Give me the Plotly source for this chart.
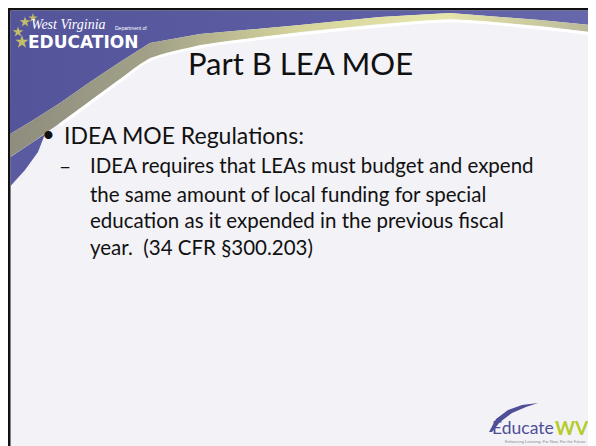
import plotly.graph_objects as go

# ---- content ----
title_text = "Part B LEA MOE"
bullet_text = "IDEA MOE Regulations:"
sub_dash = "–"
sub_lines = [
    "IDEA requires that LEAs must budget and expend",
    "the same amount of local funding for special",
    "education as it expended in the previous fiscal",
    "year.  (34 CFR §300.203)",
]
sub_line_y = [165, 194, 220, 247]
logo_top = "West Virginia"
logo_dept = "Department of"
logo_main = "EDUCATION"
footer_logo_a = "Educate"
footer_logo_b = "WV"
footer_tag = "Enhancing Learning. For Now. For the Future."

# swoosh band edges (page pixel coordinates)
outer_x = [591, 540, 450, 380, 300, 200, 150, 120, 90, 60, 30, 10]
outer_y = [25, 20, 13, 17, 25, 34, 43, 62, 82, 103, 122, 134]
inner_x = [591, 540, 450, 380, 300, 200, 150, 120, 90, 60, 30, 10]
inner_y = [32, 26, 19, 24, 32, 45, 58, 79, 101, 123, 144, 157]

W, H = 596, 446
OFF = 8  # default page margin of the html body

fig = go.Figure()

shapes = []
# black frame and slide background
shapes.append(dict(type="rect", x0=0, x1=W + 10, y0=8, y1=H + 10, fillcolor="#111111", line_width=0, layer="below"))
shapes.append(dict(type="rect", x0=10.5, x1=591, y0=10.5, y1=H + 10, fillcolor="#f3f2f7", line_width=0, layer="below"))

# purple header region above band
px = [10.5, 591] + outer_x
py = [10.5, 10.5] + outer_y
fig.add_trace(go.Scatter(x=px + [px[0]], y=py + [py[0]], mode="lines", fill="toself",
                         line=dict(width=0), fillgradient=dict(type="horizontal",
                         colorscale=[[0, "#54549b"], [0.5, "#5c5ca3"], [1, "#6767ab"]]),
                         hoverinfo="skip", showlegend=False))
# purple region below band on left
bx = [10.5, 30, 45, 38, 25, 10.5]
by = [157, 144, 134, 152, 170, 186]
fig.add_trace(go.Scatter(x=bx + [bx[0]], y=by + [by[0]], mode="lines", fill="toself", line=dict(width=0),
                         fillcolor="#5a5aa0", hoverinfo="skip", showlegend=False))
# band
bandx = outer_x + inner_x[::-1]
bandy = outer_y + inner_y[::-1]
fig.add_trace(go.Scatter(x=bandx + [bandx[0]], y=bandy + [bandy[0]], mode="lines", fill="toself",
                         line=dict(width=0), fillgradient=dict(type="horizontal",
                         colorscale=[[0, "#8e8d7e"], [0.25, "#a3a288"], [0.5, "#d6d59c"], [0.75, "#e6e5aa"], [1, "#b9b99a"]]),
                         hoverinfo="skip", showlegend=False))
# white highlight under band
fig.add_trace(go.Scatter(x=inner_x[:-2], y=[v + 2 for v in inner_y[:-2]], mode="lines",
                         line=dict(color="rgba(255,255,255,0.95)", width=3, shape="spline"),
                         hoverinfo="skip", showlegend=False))

# stars in logo
fig.add_trace(go.Scatter(x=[25, 33, 18, 22], y=[22, 18, 32, 42], mode="markers",
                         marker=dict(symbol="star", size=[8, 7, 8, 10], color="#f0ea52", line=dict(width=0)),
                         hoverinfo="skip", showlegend=False))

# Educate WV swoosh
sw_x = [489, 496, 508, 522, 538, 526, 512, 500, 492, 489]
sw_y = [432, 419, 410, 405, 403, 407, 413, 422, 432, 432]
fig.add_trace(go.Scatter(x=sw_x, y=sw_y, mode="lines", fill="toself", fillcolor="#4f4f98", line=dict(width=0),
                         hoverinfo="skip", showlegend=False))

fig.update_layout(shapes=shapes)

ann = []
ann.append(dict(x=29, y=24, text="<i>" + logo_top + "</i>", showarrow=False, xanchor="left", yanchor="middle",
                font=dict(family="Liberation Serif", size=14, color="white")))
ann.append(dict(x=113, y=28, text=logo_dept, showarrow=False, xanchor="left", yanchor="middle",
                font=dict(family="Liberation Sans", size=5, color="white")))
ann.append(dict(x=26, y=42, text="<b>" + logo_main + "</b>", showarrow=False, xanchor="left", yanchor="middle",
                font=dict(family="DejaVu Sans", size=17, color="white")))
ann.append(dict(x=300, y=63, text=title_text, showarrow=False, xanchor="center", yanchor="middle",
                font=dict(family="Lato", size=31, color="#111111")))
ann.append(dict(x=48, y=133, text="•", showarrow=False, xanchor="center", yanchor="middle",
                font=dict(family="Lato", size=22, color="#111111")))
ann.append(dict(x=62, y=135, text=bullet_text, showarrow=False, xanchor="left", yanchor="middle",
                font=dict(family="Lato", size=23, color="#111111")))
ann.append(dict(x=57, y=sub_line_y[0], text=sub_dash, showarrow=False, xanchor="left", yanchor="middle",
                font=dict(family="Lato", size=21, color="#111111")))
for t, yv in zip(sub_lines, sub_line_y):
    ann.append(dict(x=88, y=yv, text=t, showarrow=False, xanchor="left", yanchor="middle",
                    font=dict(family="Lato", size=20.5, color="#111111")))
ann.append(dict(x=490, y=427, text=footer_logo_a, showarrow=False, xanchor="left", yanchor="middle",
                font=dict(family="Lato", size=17.5, color="#4f4f98")))
ann.append(dict(x=591, y=427, text="<b>" + footer_logo_b + "</b>", showarrow=False, xanchor="right", yanchor="middle",
                font=dict(family="Lato", size=19, color="#b4cc28")))
ann.append(dict(x=545, y=441, text=footer_tag, showarrow=False, xanchor="center",
                yanchor="middle", font=dict(family="Liberation Sans", size=4, color="#8a8a8a")))

fig.update_layout(
    annotations=ann,
    width=W - OFF, height=H - OFF,
    margin=dict(l=0, r=0, t=0, b=0),
    paper_bgcolor="white", plot_bgcolor="white",
    xaxis=dict(range=[OFF, W], visible=False, fixedrange=True),
    yaxis=dict(range=[H, OFF], visible=False, fixedrange=True),
    showlegend=False,
)
fig.write_html("out.html")
